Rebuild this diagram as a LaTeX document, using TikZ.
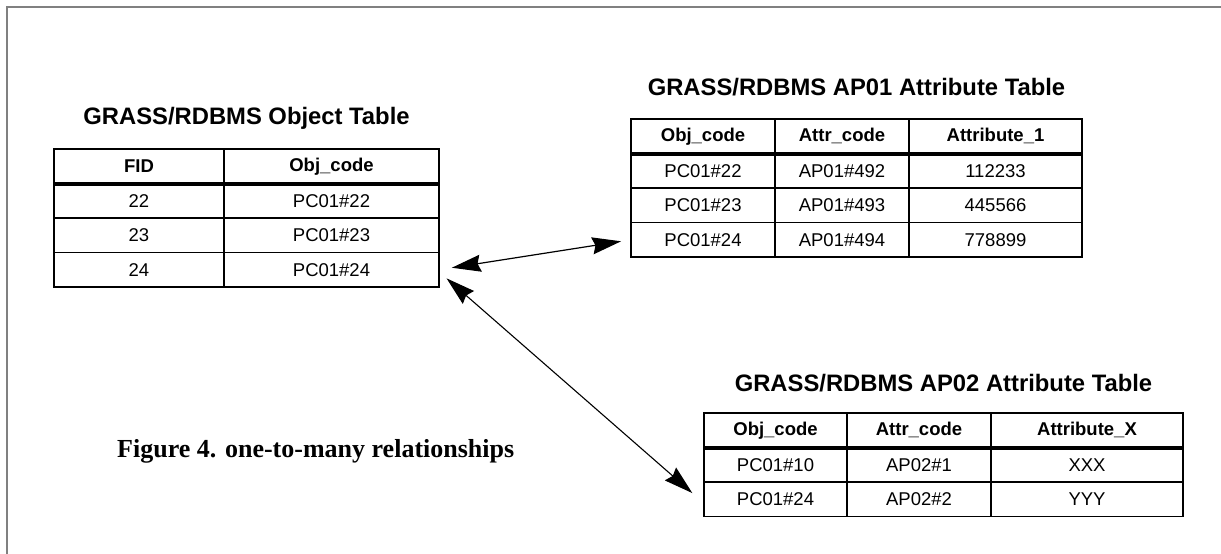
\documentclass[tikz,border=0pt]{standalone}
\usepackage{fontspec}
\setmainfont{Liberation Sans}
\newfontfamily\capfont{Liberation Serif}
\usetikzlibrary{arrows.meta,positioning}
\colorlet{frameColor}{black!50}
\colorlet{penColor}{black}
\tikzset{>={Stealth[length=29pt,width=17pt,inset=3pt]}}
\tikzset{
  cell/.style={draw=penColor, line width=1.6pt, outer sep=0pt, inner sep=0pt,
    minimum height=34.5pt, font=\fontsize{18.5}{20}\selectfont},
  headcell/.style={cell, font=\fontsize{18.5}{20}\selectfont\bfseries},
  tabletitle/.style={anchor=base, inner sep=0pt, font=\fontsize{23.8}{26}\selectfont\bfseries},
}

\begin{document}
\begin{tikzpicture}[x=1pt,y=-1pt]
  \useasboundingbox (0,0) rectangle (1221,554);
  \draw[frameColor, line width=1.3pt] (7,554) -- (7,7) -- (1221,7);% page frame

  % object table
  \node[tabletitle] (objtitle) at (246.5,124) {GRASS/RDBMS Object Table};
  \node[headcell, minimum width=170pt, anchor=north west] (obj-0-1) at (54,149) {FID};
  \node[headcell, minimum width=215pt, right=0pt of obj-0-1] (obj-0-2) {Obj\_code};
  \foreach \fid [count=\row] in {22,23,24} {
    \pgfmathtruncatemacro\prev{\row-1}
    \node[cell, minimum width=170pt, below=0pt of obj-\prev-1] (obj-\row-1) {\fid};
    \node[cell, minimum width=215pt, right=0pt of obj-\row-1] (obj-\row-2) {PC01\#\fid};
  }
  \draw[penColor, line width=4pt] (obj-0-1.south west) -- (obj-0-2.south east);% header rule

  % AP01 table
  \node[tabletitle] (apatitle) at (856.5,95) {GRASS/RDBMS AP01 Attribute Table};
  \node[headcell, minimum width=144pt, anchor=north west] (apa-0-1) at (631,119) {Obj\_code};
  \node[headcell, minimum width=134pt, right=0pt of apa-0-1] (apa-0-2) {Attr\_code};
  \node[headcell, minimum width=173pt, right=0pt of apa-0-2] (apa-0-3) {Attribute\_1};
  \foreach \obj/\attr/\val [count=\row] in {22/492/112233, 23/493/445566, 24/494/778899} {
    \pgfmathtruncatemacro\prev{\row-1}
    \node[cell, minimum width=144pt, below=0pt of apa-\prev-1] (apa-\row-1) {PC01\#\obj};
    \node[cell, minimum width=134pt, right=0pt of apa-\row-1] (apa-\row-2) {AP01\#\attr};
    \node[cell, minimum width=173pt, right=0pt of apa-\row-2] (apa-\row-3) {\val};
  }
  \draw[penColor, line width=4pt] (apa-0-1.south west) -- (apa-0-3.south east);% header rule

  % AP02 table
  \node[tabletitle] (apbtitle) at (943.5,391) {GRASS/RDBMS AP02 Attribute Table};
  \node[headcell, minimum width=143pt, anchor=north west] (apb-0-1) at (704,413) {Obj\_code};
  \node[headcell, minimum width=144pt, right=0pt of apb-0-1] (apb-0-2) {Attr\_code};
  \node[headcell, minimum width=192pt, right=0pt of apb-0-2] (apb-0-3) {Attribute\_X};
  \foreach \obj/\attr/\val [count=\row] in {10/1/XXX, 24/2/YYY} {
    \pgfmathtruncatemacro\prev{\row-1}
    \node[cell, minimum width=143pt, below=0pt of apb-\prev-1] (apb-\row-1) {PC01\#\obj};
    \node[cell, minimum width=144pt, right=0pt of apb-\row-1] (apb-\row-2) {AP02\#\attr};
    \node[cell, minimum width=192pt, right=0pt of apb-\row-2] (apb-\row-3) {\val};
  }
  \draw[penColor, line width=4pt] (apb-0-1.south west) -- (apb-0-3.south east);% header rule

  \node[anchor=base west, inner sep=0pt, font=\capfont\bfseries\fontsize{26}{30}\selectfont]
    (caption) at (117,457) {Figure 4. one-to-many relationships};

  % relationships
  \draw[<->, penColor, line width=1.2pt, shorten <=13pt, shorten >=10pt]
    (obj-3-2.east) -- (apa-3-1.west);
  \draw[<->, penColor, line width=1.1pt, shorten <=10pt, shorten >=15.5pt]
    ([yshift=-2pt]obj-3-2.east) -- ([yshift=-4pt]apb-2-1.west);
\end{tikzpicture}
\end{document}
